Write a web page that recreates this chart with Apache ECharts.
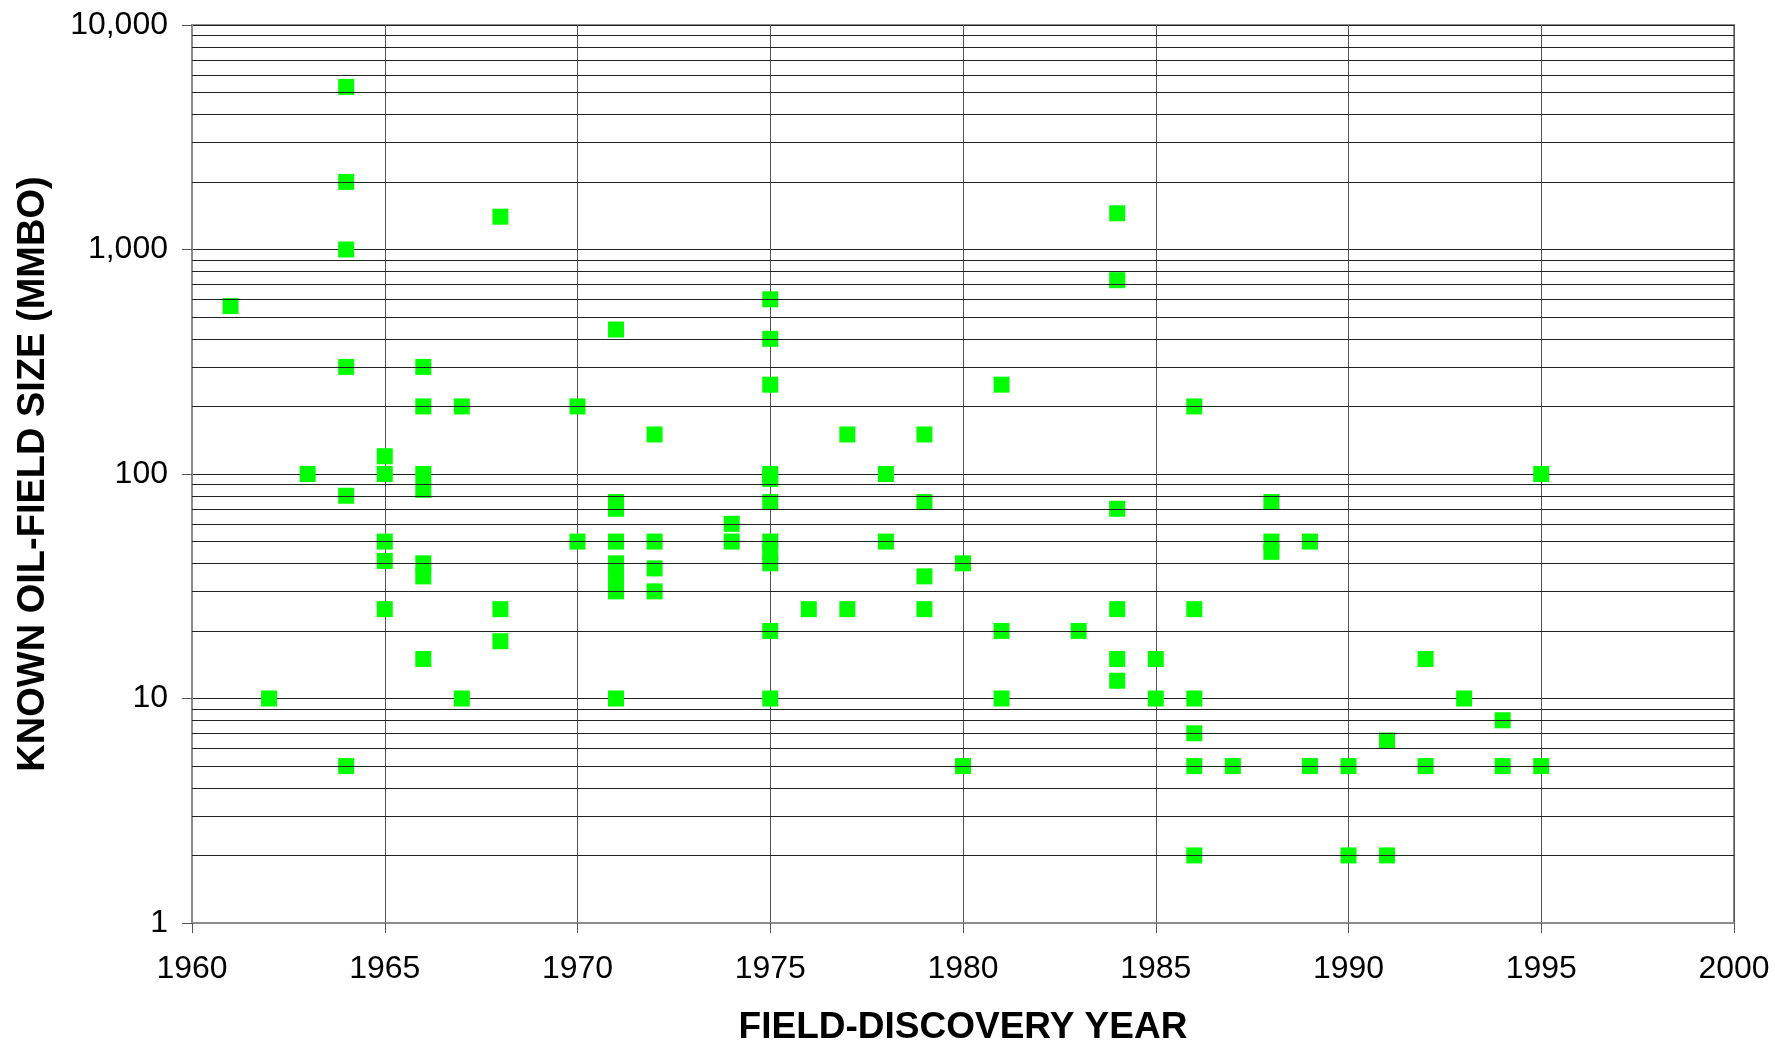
<!DOCTYPE html>
<html>
<head>
<meta charset="utf-8">
<title>Known oil-field size vs discovery year</title>
<script src="https://cdn.jsdelivr.net/npm/echarts@6/dist/echarts.min.js"></script>
<style>
  html, body { margin: 0; padding: 0; background: #fff; }
  #main { width: 1775px; height: 1044px; }
</style>
</head>
<body>
<div id="main"></div>
<script>
// one entry per field (year, size in MMBO)
const fieldYears = [
  1961, 1962, 1963,
  1964, 1964, 1964, 1964, 1964, 1964,
  1965, 1965, 1965, 1965, 1965,
  1966, 1966, 1966, 1966, 1966, 1966, 1966,
  1967, 1967,
  1968, 1968, 1968,
  1970, 1970,
  1971, 1971, 1971, 1971, 1971, 1971, 1971, 1971,
  1972, 1972, 1972, 1972,
  1974, 1974,
  1975, 1975, 1975, 1975, 1975, 1975, 1975, 1975, 1975, 1975, 1975,
  1976,
  1977, 1977,
  1978, 1978,
  1979, 1979, 1979, 1979,
  1980, 1980,
  1981, 1981, 1981,
  1983,
  1984, 1984, 1984, 1984, 1984, 1984,
  1985, 1985,
  1986, 1986, 1986, 1986, 1986, 1986,
  1987,
  1988, 1988, 1988,
  1989, 1989,
  1990, 1990,
  1991, 1991,
  1992, 1992,
  1993,
  1994, 1994,
  1995, 1995
]

const fieldSizes = [
  560, 10, 100,
  5300, 2000, 1000, 300, 80, 5,
  120, 100, 50, 41, 25,
  300, 200, 100, 85, 40, 35, 15,
  200, 10,
  1400, 25, 18,
  200, 50,
  440, 75, 70, 50, 40, 35, 30, 10,
  150, 50, 38, 30,
  60, 50,
  600, 400, 250, 100, 95, 75, 50, 45, 40, 20, 10,
  25,
  150, 25,
  100, 50,
  150, 75, 35, 25,
  40, 5,
  250, 20, 10,
  20,
  1450, 730, 70, 25, 15, 12,
  15, 10,
  200, 25, 10, 7, 5, 2,
  5,
  75, 50, 45,
  50, 5,
  5, 2,
  6.5, 2,
  15, 5,
  10,
  8, 5,
  100, 5
]

const yearTicks = [1960, 1965, 1970, 1975, 1980, 1985, 1990, 1995, 2000]
const sizeDecades = [1, 10, 100, 1000]
const minorSteps = [2, 3, 4, 5, 6, 7, 8, 9]

const FONT = "'Liberation Sans', Arial, sans-serif"

// horizontal lines at 2..9 of every decade
const minorLines = []
sizeDecades.forEach(d => {
  minorSteps.forEach(m => minorLines.push({ yAxis: d * m }))
})

const points = fieldYears.map((yr, i) => [yr, fieldSizes[i]])

const chart = echarts.init(document.getElementById("main"))

const option = {
  backgroundColor: "#ffffff",
  animation: false,
  grid: {
    left: 192,
    right: 41,
    top: 25,
    bottom: 121,
    outerBoundsMode: "none",
    show: true,
    borderColor: "#8c8c8c",
    borderWidth: 2,
    backgroundColor: "transparent",
  },
  xAxis: {
    type: "value",
    min: yearTicks[0],
    max: yearTicks[yearTicks.length - 1],
    interval: 5,
    name: "FIELD-DISCOVERY YEAR",
    nameLocation: "middle",
    nameGap: 86,
    nameTextStyle: {
      fontFamily: FONT,
      fontWeight: "bold",
      fontSize: 37,
      color: "#000",
    },
    axisLine: { show: true, lineStyle: { color: "#8c8c8c", width: 2 } },
    axisTick: { show: true, inside: false, length: 10, lineStyle: { color: "#555", width: 1 } },
    axisLabel: {
      margin: 30,
      fontFamily: FONT,
      fontSize: 32,
      color: "#000",
      formatter: v => String(v),
    },
    splitLine: { show: true, lineStyle: { color: "#555", width: 1 } },
  },
  yAxis: {
    type: "log",
    logBase: 10,
    min: 1,
    max: 10000,
    name: "KNOWN OIL-FIELD SIZE (MMBO)",
    nameLocation: "middle",
    nameGap: 139,
    nameTextStyle: {
      fontFamily: FONT,
      fontWeight: "bold",
      fontSize: 38,
      color: "#000",
    },
    axisLine: { show: true, lineStyle: { color: "#8c8c8c", width: 2 } },
    axisTick: { show: true, inside: false, length: 10, lineStyle: { color: "#555", width: 1 } },
    axisLabel: {
      margin: 24,
      fontFamily: FONT,
      fontSize: 32,
      color: "#000",
      formatter: v => Number(v).toLocaleString("en-US"),
    },
    splitLine: { show: true, lineStyle: { color: "#222", width: 1 } },
  },
  series: [
    {
      // carries only the minor grid lines
      type: "scatter",
      data: [],
      z: 1,
      silent: true,
      markLine: {
        silent: true,
        symbol: ["none", "none"],
        label: { show: false },
        animation: false,
        lineStyle: { type: "solid", color: "#222", width: 1 },
        data: minorLines,
      },
    },
    {
      name: "Fields",
      type: "scatter",
      data: points,
      z: 3,
      symbol: "rect",
      symbolSize: 16,
      itemStyle: { color: "#00ff00", opacity: 1 },
    },
  ],
}

chart.setOption(option)
</script>
</body>
</html>
